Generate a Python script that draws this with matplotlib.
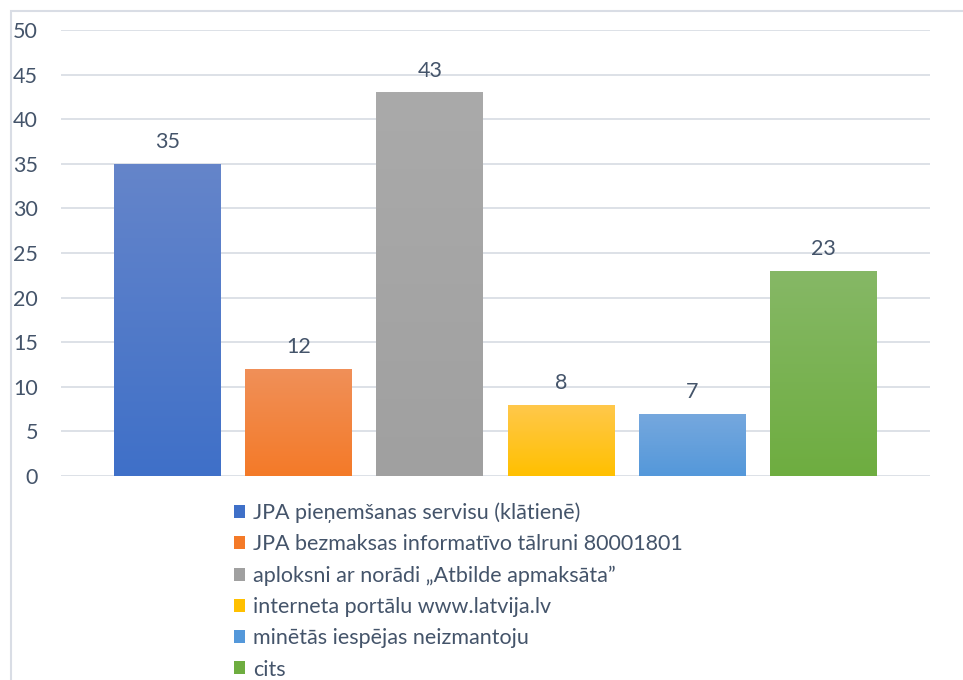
import numpy as np
import matplotlib.pyplot as plt
from matplotlib.colors import LinearSegmentedColormap
from matplotlib.patches import Rectangle, Patch

plt.rcParams['font.family'] = ['Lato', 'DejaVu Sans']

# data
labels = ['JPA pieņemšanas servisu (klātienē)',
          'JPA bezmaksas informatīvo tālruni 80001801',
          'aploksni ar norādi „Atbilde apmaksāta”',
          'interneta portālu www.latvija.lv',
          'minētās iespējas neizmantoju',
          'cits']
values = [35, 12, 43, 8, 7, 23]
top_colors = ['#6585CA', '#F09059', '#AAAAAA', '#FFC84C', '#76A8DE', '#86B866']
bottom_colors = ['#3F70C8', '#F47A28', '#A0A0A0', '#FFC000', '#5498DA', '#6EAD40']

text_col = '#44546A'
grid_col = '#DDE1E7'

fig = plt.figure(figsize=(9.63, 6.80), dpi=100)
ax = fig.add_axes([61/963, 1-476/680, 869/963, 446/680])

x = np.arange(len(values))
bars = ax.bar(x, values, width=0.815, color=bottom_colors, zorder=2)

# vertical gradient inside each bar
grad = np.linspace(0, 1, 256).reshape(-1, 1)
for b, c0, c1 in zip(bars, bottom_colors, top_colors):
    cmap = LinearSegmentedColormap.from_list('g', [c0, c1])
    x0, y0 = b.get_x(), b.get_y()
    im = ax.imshow(grad, cmap=cmap, aspect='auto', origin='lower',
                   extent=[x0, x0 + b.get_width(), y0, y0 + b.get_height()],
                   zorder=3)
    im.set_clip_path(b)
    ax.text(x0 + b.get_width()/2, b.get_height() + 1.3, str(int(b.get_height())),
            ha='center', va='bottom', fontsize=15.5, color=text_col, zorder=4)

ax.set_xlim(-0.81, 5.81)
ax.set_ylim(0, 50)
ax.set_yticks(range(0, 51, 5))
ax.set_xticks([])
ax.tick_params(axis='y', length=0, pad=16.5, labelsize=15.5, labelcolor=text_col)
ax.yaxis.grid(True, color=grid_col, lw=1.4, zorder=0)
for s in ax.spines.values():
    s.set_visible(False)

# legend
handles = [Patch(facecolor=t, edgecolor='none') for t in bottom_colors]
leg = fig.legend(handles, labels, loc='upper left', bbox_to_anchor=(225/963, 1-494/680),
                 frameon=False, fontsize=15.5, labelcolor=text_col,
                 handlelength=0.55, handleheight=0.55, handletextpad=0.35,
                 labelspacing=0.52, borderaxespad=0)

# chart border
fig.patches.append(Rectangle((10.5/963, -0.1), 1.2, 1.1 - 11/680, transform=fig.transFigure,
                             fill=False, edgecolor='#D9DDE5', lw=1.5))

fig.savefig('out.png', dpi=100)
